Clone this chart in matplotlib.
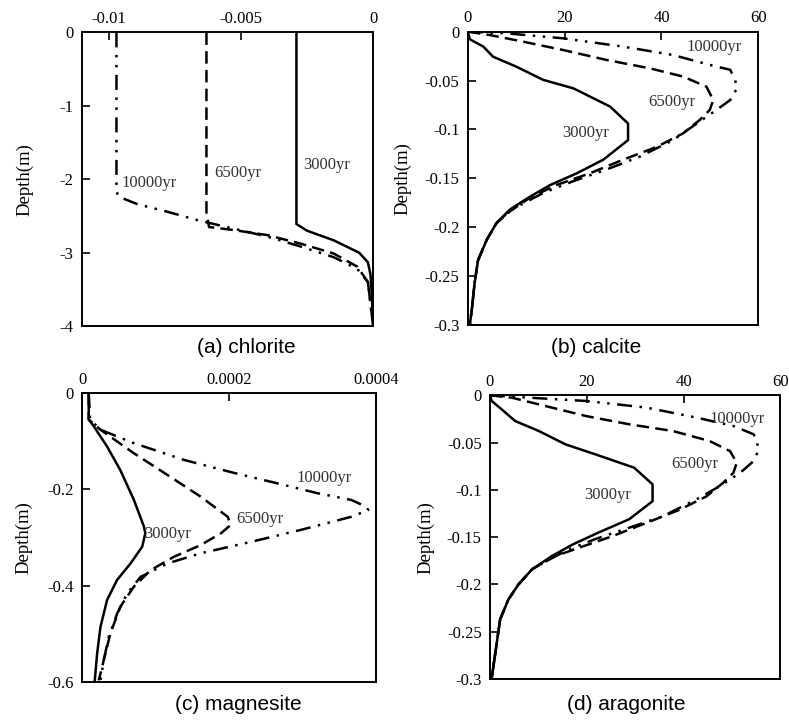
import numpy as np
import matplotlib.pyplot as plt

plt.rcParams['axes.unicode_minus'] = False
plt.rcParams['font.family'] = 'Liberation Serif'

# (a) chlorite
chl_3000_x = [-0.0029, -0.0029, -0.0029, -0.0025, -0.0015, -0.00053, -0.0002, -0.0001, -0.00005, 0.0]
chl_3000_d = [0.0, -1.5, -2.61, -2.70, -2.83, -3.0, -3.13, -3.3, -3.6, -4.0]
chl_6500_x = [-0.0063, -0.0063, -0.0063, -0.0062, -0.0053, -0.0040, -0.0027, -0.0015, -0.0006, -0.0002, -0.0001, 0.0]
chl_6500_d = [0.0, -1.5, -2.47, -2.65, -2.69, -2.76, -2.88, -3.01, -3.19, -3.4, -3.7, -4.0]
chl_10000_x = [-0.0097, -0.0097, -0.0097, -0.0096, -0.0089, -0.0078, -0.0066, -0.0053, -0.0040, -0.0027,
               -0.0015, -0.0006, -0.0002, -0.0001, 0.0]
chl_10000_d = [0.0, -1.5, -2.17, -2.24, -2.34, -2.44, -2.56, -2.67, -2.78, -2.92,
               -3.06, -3.22, -3.4, -3.7, -4.0]

# (b) calcite
cal_3000_x = [0, 0.4, 3.2, 5.2, 10, 15.6, 21.8, 29.4, 33.1, 33.1, 28, 22.5, 17, 12.8, 8.7, 5.9, 3.9, 2.1, 1.4, 0.8, 0.4]
cal_3000_d = [0, -0.0078, -0.0153, -0.0256, -0.0358, -0.0494, -0.058, -0.0767, -0.094, -0.111, -0.131, -0.145,
              -0.157, -0.169, -0.182, -0.196, -0.213, -0.234, -0.257, -0.285, -0.3]
cal_6500_x = [0, 4.5, 11.4, 19.7, 28.7, 37.6, 44.5, 49.3, 50.7, 50, 48, 44.5, 39, 32.1, 25.2, 18.3, 12.8, 8.7,
              5.9, 3.9, 2.1, 1.4, 0.8, 0.4]
cal_6500_d = [0, -0.0034, -0.0102, -0.0188, -0.029, -0.0375, -0.046, -0.0563, -0.070, -0.080, -0.090, -0.104,
              -0.118, -0.131, -0.145, -0.157, -0.170, -0.184, -0.196, -0.213, -0.234, -0.257, -0.285, -0.3]
cal_10000_x = [0, 8, 19.7, 32.1, 42.4, 50, 54.2, 55.2, 55.6, 54.2, 51.4, 47.3, 42.4, 35.5, 28.7, 21.8, 15.6,
               11.4, 8.7, 5.9, 3.9, 2.1, 1.4, 0.8, 0.4]
cal_10000_d = [0, -0.0017, -0.0068, -0.0153, -0.0239, -0.034, -0.039, -0.049, -0.058, -0.070, -0.080, -0.094,
               -0.111, -0.128, -0.141, -0.153, -0.165, -0.176, -0.183, -0.196, -0.213, -0.234, -0.257, -0.285, -0.3]

# (c) magnesite
mag_3000_x = [0.0000091, 0.0000091, 0.000016, 0.000034, 0.000052, 0.0000705, 0.000084, 0.000086, 0.0000818,
              0.0000659, 0.0000477, 0.000034, 0.000025, 0.0000205, 0.0000173]
mag_3000_d = [0, -0.055, -0.069, -0.111, -0.160, -0.222, -0.277, -0.291, -0.319, -0.354, -0.388, -0.430,
              -0.486, -0.541, -0.597]
mag_6500_x = [0.0000091, 0.0000091, 0.000025, 0.0000705, 0.000116, 0.000161, 0.000198, 0.000202, 0.000189,
              0.000161, 0.000125, 0.0000932, 0.0000705, 0.000052, 0.0000386, 0.0000295, 0.0000227]
mag_6500_d = [0, -0.055, -0.076, -0.125, -0.170, -0.215, -0.257, -0.274, -0.291, -0.316, -0.340, -0.368,
              -0.402, -0.444, -0.499, -0.555, -0.597]
mag_10000_x = [0.0000091, 0.000011, 0.000025, 0.0000705, 0.000139, 0.000207, 0.000275, 0.00032, 0.000366,
               0.000386, 0.000389, 0.000366, 0.000298, 0.00023, 0.000161, 0.000116, 0.0000795, 0.0000614,
               0.0000477, 0.0000364, 0.0000295, 0.000025]
mag_10000_d = [0, -0.055, -0.076, -0.104, -0.139, -0.166, -0.191, -0.208, -0.222, -0.236, -0.243, -0.257,
               -0.284, -0.309, -0.333, -0.354, -0.382, -0.416, -0.458, -0.506, -0.555, -0.597]

# (d) aragonite
ara_3000_x = [0, 0.35, 2.4, 5.2, 10.1, 15.6, 21.8, 29.8, 33.6, 33.6, 28.8, 22.5, 17, 12.8, 8.7, 5.9, 3.8, 2.1,
              1.4, 0.7, 0.35]
ara_3000_d = [0, -0.006, -0.0148, -0.0272, -0.0378, -0.0519, -0.0625, -0.0766, -0.0942, -0.112, -0.131, -0.145,
              -0.158, -0.170, -0.184, -0.200, -0.216, -0.237, -0.262, -0.287, -0.3]
ara_6500_x = [0, 4.5, 11.4, 19.8, 28.8, 37.8, 45.4, 49.6, 51, 50.3, 48.2, 44.7, 39.2, 32.3, 25.3, 19.1, 13.5,
              8.7, 5.9, 3.8, 2.1, 1.4, 0.7, 0.35]
ara_6500_d = [0, -0.0025, -0.0113, -0.0219, -0.0307, -0.0378, -0.0484, -0.059, -0.0713, -0.082, -0.0925,
              -0.107, -0.121, -0.135, -0.149, -0.160, -0.170, -0.184, -0.200, -0.216, -0.237, -0.262, -0.287, -0.3]
ara_10000_x = [0, 8, 19.8, 32.3, 42.7, 50.3, 54.5, 55.2, 55.5, 54.1, 51.7, 47.5, 42.7, 35.7, 28.8, 21.8, 16.3,
               12.1, 8.7, 5.9, 3.8, 2.1, 1.4, 0.7, 0.35]
ara_10000_d = [0, -0.0025, -0.006, -0.013, -0.0236, -0.0325, -0.0413, -0.0501, -0.059, -0.0713, -0.082, -0.096,
               -0.110, -0.128, -0.140, -0.152, -0.163, -0.174, -0.184, -0.200, -0.216, -0.237, -0.262, -0.287, -0.3]

ls_solid = '-'
ls_dash = (0, (5, 2.5))
ls_dashdotdot = (0, (6, 3, 1, 3, 1, 3))

fig = plt.figure(figsize=(7.89, 7.2), dpi=100)

panels = [
    dict(pos=[0.104, 0.547, 0.369, 0.408], xlim=(-0.011, 0), ylim=(-4, 0),
         xt=[-0.01, -0.005, 0], xtl=['-0.01', '-0.005', '0'],
         yt=[0, -1, -2, -3, -4], ytl=['0', '-1', '-2', '-3', '-4'],
         data=[(chl_3000_x, chl_3000_d), (chl_6500_x, chl_6500_d), (chl_10000_x, chl_10000_d)],
         labels=[(-0.00263, -1.81), (-0.0060, -1.92), (-0.0095, -2.05)],
         caption='(a) chlorite', cap=(0.312, 0.517), lab=(-0.168, 0.5)),
    dict(pos=[0.593, 0.549, 0.368, 0.407], xlim=(0, 60), ylim=(-0.3, 0),
         xt=[0, 20, 40, 60], xtl=['0', '20', '40', '60'],
         yt=[0, -0.05, -0.1, -0.15, -0.2, -0.25, -0.3],
         ytl=['0', '-0.05', '-0.1', '-0.15', '-0.2', '-0.25', '-0.3'],
         data=[(cal_3000_x, cal_3000_d), (cal_6500_x, cal_6500_d), (cal_10000_x, cal_10000_d)],
         labels=[(19.4, -0.104), (37.3, -0.0716), (45.2, -0.0153)],
         caption='(b) calcite', cap=(0.755, 0.517), lab=(-0.193, 0.5)),
    dict(pos=[0.104, 0.053, 0.373, 0.401], xlim=(0, 0.0004), ylim=(-0.6, 0),
         xt=[0, 0.0002, 0.0004], xtl=['0', '0.0002', '0.0004'],
         yt=[0, -0.2, -0.4, -0.6], ytl=['0', '-0.2', '-0.4', '-0.6'],
         data=[(mag_3000_x, mag_3000_d), (mag_6500_x, mag_6500_d), (mag_10000_x, mag_10000_d)],
         labels=[(0.000084, -0.293), (0.000209, -0.262), (0.000291, -0.177)],
         caption='(c) magnesite', cap=(0.302, 0.021), lab=(-0.170, 0.5)),
    dict(pos=[0.621, 0.057, 0.368, 0.394], xlim=(0, 60), ylim=(-0.3, 0),
         xt=[0, 20, 40, 60], xtl=['0', '20', '40', '60'],
         yt=[0, -0.05, -0.1, -0.15, -0.2, -0.25, -0.3],
         ytl=['0', '-0.05', '-0.1', '-0.15', '-0.2', '-0.25', '-0.3'],
         data=[(ara_3000_x, ara_3000_d), (ara_6500_x, ara_6500_d), (ara_10000_x, ara_10000_d)],
         labels=[(19.4, -0.105), (37.5, -0.073), (45.4, -0.0254)],
         caption='(d) aragonite', cap=(0.794, 0.021), lab=(-0.19, 0.5)),
]
panels[0]['cap'] = (0.312, 0.517)

names = ['3000yr', '6500yr', '10000yr']
styles = [ls_solid, ls_dash, ls_dashdotdot]

for p in panels:
    ax = fig.add_axes(p['pos'])
    for (x, d), ls in zip(p['data'], styles):
        ax.plot(x, d, color='black', lw=1.8, linestyle=ls)
    for (tx, ty), nm in zip(p['labels'], names):
        ax.text(tx, ty, nm, fontsize=12, ha='left', va='center', color='#333333')
    ax.set_xlim(p['xlim'])
    ax.set_ylim(p['ylim'])
    ax.xaxis.tick_top()
    ax.set_xticks(p['xt'])
    ax.set_xticklabels(p['xtl'])
    ax.set_yticks(p['yt'])
    ax.set_yticklabels(p['ytl'])
    ax.tick_params(direction='in', length=6, width=1.2, labelsize=12)
    ax.tick_params(axis='y', pad=6)
    ax.tick_params(axis='x', pad=4)
    ax.set_ylabel('Depth(m)', fontsize=13.5)
    ax.yaxis.set_label_coords(*p['lab'])
    for s in ax.spines.values():
        s.set_linewidth(1.4)
    fig.text(p['cap'][0], p['cap'][1], p['caption'], fontsize=15, ha='center', va='center',
             family='Liberation Sans')

plt.savefig('out.png', dpi=100)
